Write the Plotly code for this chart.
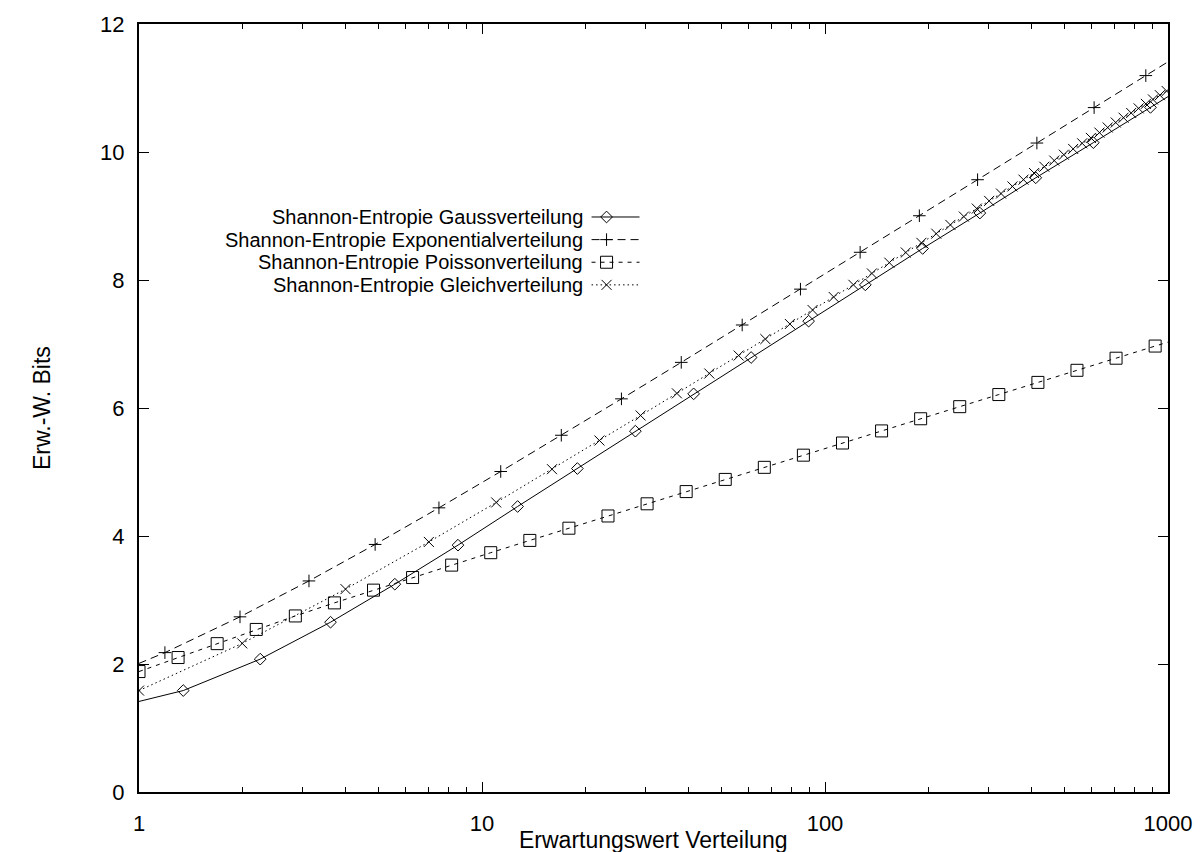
import plotly.graph_objects as go

# ---------------- data ----------------
gauss_x = [0.75, 1.346, 2.256, 3.617, 5.57, 8.51, 12.7, 18.97, 28.0, 41.4, 60.9,
           89.6, 131.1, 192.6, 282.8, 411.6, 605.8, 889.0, 1307.0]
gauss_y = [1.25, 1.585, 2.076, 2.653, 3.247, 3.857, 4.461, 5.054, 5.638, 6.221, 6.789,
           7.357, 7.924, 8.493, 9.046, 9.597, 10.146, 10.697, 11.25]

exp_x = [0.667, 1.19, 1.97, 3.13, 4.88, 7.49, 11.34, 17.03, 25.5, 38.1, 57.35,
         84.8, 126.6, 188.4, 278.5, 414.7, 609.0, 861.6, 1280.0]
exp_y = [1.618, 2.178, 2.737, 3.298, 3.868, 4.440, 5.008, 5.574, 6.143, 6.713, 7.297,
         7.857, 8.433, 9.004, 9.567, 10.140, 10.694, 11.194, 11.765]

poisson_x = [1.0, 1.3, 1.69, 2.197, 2.856, 3.713, 4.827, 6.275, 8.157, 10.604, 13.786,
             17.922, 23.298, 30.288, 39.374, 51.186, 66.542, 86.504, 112.455, 146.192,
             190.05, 247.065, 321.184, 417.539, 542.801, 705.641, 917.333, 1192.533]
poisson_y = [1.882, 2.101, 2.318, 2.540, 2.751, 2.955, 3.154, 3.351, 3.545, 3.739, 3.931,
             4.122, 4.313, 4.503, 4.694, 4.884, 5.073, 5.263, 5.453, 5.642, 5.832,
             6.021, 6.210, 6.400, 6.589, 6.778, 6.968, 7.157]

gleich_x = [1, 2, 4, 7, 11, 16, 22, 29, 37, 46, 56, 67, 79, 92, 106, 121, 137, 154,
            172, 191, 211, 232, 254, 277, 301, 326, 352, 379, 407, 436, 466, 497, 529,
            562, 596, 631, 667, 704, 742, 781, 821, 862, 904, 947, 991]
gleich_y = [1.585, 2.322, 3.170, 3.907, 4.524, 5.044, 5.492, 5.883, 6.229, 6.539, 6.820,
            7.077, 7.313, 7.531, 7.735, 7.925, 8.103, 8.271, 8.430, 8.581, 8.724, 8.861,
            8.991, 9.116, 9.236, 9.351, 9.462, 9.568, 9.671, 9.770, 9.866, 9.958, 10.048,
            10.136, 10.220, 10.303, 10.383, 10.461, 10.536, 10.610, 10.682, 10.752,
            10.821, 10.888, 10.953]

series_names = ["Shannon-Entropie Gaussverteilung",
                "Shannon-Entropie Exponentialverteilung",
                "Shannon-Entropie Poissonverteilung",
                "Shannon-Entropie Gleichverteilung"]

x_tick_vals = [1, 10, 100, 1000]
x_tick_text = ["1", "10", "100", "1000"]
y_tick_vals = [0, 2, 4, 6, 8, 10, 12]

x_title = "Erwartungswert Verteilung"
y_title = "Erw.-W. Bits"

# ---------------- styles ----------------
FONT = "Liberation Sans, Arial, Helvetica, sans-serif"
FS_TICK = 22
FS_TEXT = 23
FS_LEG = 20
styles = [
    dict(dash="solid", symbol="diamond-open", size=9),
    dict(dash="8px,5px", symbol="cross-thin-open", size=9),
    dict(dash="4px,5px", symbol="square-open", size=12),
    dict(dash="1.5px,3px", symbol="x-thin-open", size=10),
]
data = [(gauss_x, gauss_y), (exp_x, exp_y), (poisson_x, poisson_y), (gleich_x, gleich_y)]

W, H = 1204, 852
L, R, T, B = 139, 1169, 18, 792   # plot area in pixels
PW, PH = R - L, B - T

fig = go.Figure()
for (xs, ys), st, nm in zip(data, styles, series_names):
    fig.add_trace(go.Scatter(
        x=xs, y=ys, mode="lines+markers", name=nm, showlegend=False,
        line=dict(color="black", width=1, dash=st["dash"]),
        marker=dict(symbol=st["symbol"], size=st["size"], color="black",
                    line=dict(color="black", width=1)),
    ))

# hand-made gnuplot style legend (text left, sample right) on a pixel overlay axis
leg_rows = [212.5, 235.3, 258.1, 280.9]
leg_text_right = 584
leg_line = (592, 640)
leg_marker_x = 607
for i, (st, nm) in enumerate(zip(styles, series_names)):
    yy = leg_rows[i]
    fig.add_trace(go.Scatter(
        x=list(leg_line), y=[yy, yy], mode="lines", xaxis="x2", yaxis="y2",
        showlegend=False, hoverinfo="skip",
        line=dict(color="black", width=1, dash=st["dash"]),
    ))
    fig.add_trace(go.Scatter(
        x=[leg_marker_x], y=[yy], mode="markers", xaxis="x2", yaxis="y2",
        showlegend=False, hoverinfo="skip", cliponaxis=False,
        marker=dict(symbol=st["symbol"], size=st["size"], color="black",
                    line=dict(color="black", width=1)),
    ))
    fig.add_annotation(x=leg_text_right, y=yy, xref="x2", yref="y2", text=nm,
                       showarrow=False, xanchor="right", yanchor="middle",
                       borderpad=0,
                       font=dict(family=FONT, size=FS_LEG, color="black"))

def px_to_paper(px, py):
    return (px - L) / PW, (B - py) / PH

tx, ty = px_to_paper(653, 840)
fig.add_annotation(x=tx, y=ty, xref="paper", yref="paper", text=x_title,
                   showarrow=False, xanchor="center", yanchor="middle",
                   font=dict(family=FONT, size=FS_TEXT, color="black"))
tx, ty = px_to_paper(42, 405)
fig.add_annotation(x=tx, y=ty, xref="paper", yref="paper", text=y_title,
                   showarrow=False, xanchor="center", yanchor="middle", textangle=-90,
                   font=dict(family=FONT, size=FS_TEXT, color="black"))

axis_common = dict(
    showgrid=False, zeroline=False, showline=True, linecolor="black", linewidth=2,
    mirror="ticks", ticks="inside", ticklen=10, tickwidth=1, tickcolor="black",
    tickfont=dict(family=FONT, size=FS_TICK, color="black"),
)
minor_x = dict(ticks="inside", ticklen=5, tickwidth=1, tickcolor="black",
               dtick="D1", showgrid=False)
fig.update_layout(
    width=W, height=H,
    margin=dict(l=L, r=W - R, t=T, b=H - B, pad=0),
    paper_bgcolor="white", plot_bgcolor="white",
    xaxis=dict(type="log", range=[0, 3], tickvals=x_tick_vals, ticktext=x_tick_text,
               ticklabelstandoff=11, minor=minor_x, **axis_common),
    yaxis=dict(range=[0, 12], tickvals=y_tick_vals, ticklabelstandoff=8, **axis_common),
    xaxis2=dict(overlaying="x", anchor="y2", range=[L, R], visible=False, fixedrange=True),
    yaxis2=dict(overlaying="y", anchor="x2", range=[B, T], visible=False, fixedrange=True),
    # top axis carrying the mirrored major and minor ticks (no labels)
    xaxis3=dict(overlaying="x", anchor="y", side="top", type="log", range=[0, 3],
                tickvals=x_tick_vals, showticklabels=False, ticks="inside", ticklen=10,
                tickwidth=1, tickcolor="black", minor=minor_x, showline=False,
                showgrid=False, zeroline=False, fixedrange=True),
)
fig.add_trace(go.Scatter(x=[], y=[], xaxis="x3", yaxis="y", showlegend=False,
                         hoverinfo="skip"))

fig.write_html("out.html")
